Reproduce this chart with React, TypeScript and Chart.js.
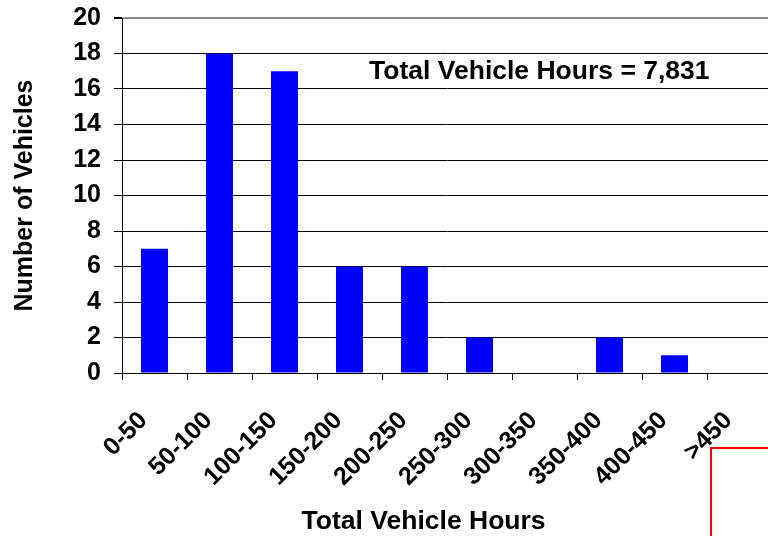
import React, { useEffect, useRef } from 'react';
import { Chart, registerables } from 'chart.js';

Chart.register(...registerables);

const categories = ['0-50', '50-100', '100-150', '150-200', '200-250', '250-300', '300-350', '350-400', '400-450', '>450'];
const vehicleCounts = [7, 18, 17, 6, 6, 2, 0, 2, 1, 0];
const yMin = 0;
const yMax = 20;
const yStep = 2;
const annotationText = 'Total Vehicle Hours = 7,831';
const xTitleText = 'Total Vehicle Hours';
const yTitleText = 'Number of Vehicles';

const FONT = '"Liberation Sans", Arial, sans-serif';

const textPlugin = {
  id: 'extraTexts',
  afterDraw(chart: any) {
    const { ctx, scales } = chart;
    const x = scales.x;
    const y = scales.y;
    ctx.save();
    ctx.fillStyle = '#000';
    ctx.textAlign = 'center';
    ctx.textBaseline = 'middle';
    ctx.font = `bold 26.5px ${FONT}`;
    ctx.fillText(annotationText, x.getPixelForValue(5.92), y.getPixelForValue(17));
    ctx.fillText(xTitleText, x.getPixelForValue(4.14), chart.height - 14);
    ctx.restore();
  },
};

export default function App() {
  const ref = useRef<HTMLCanvasElement | null>(null);
  useEffect(() => {
    if (!ref.current) return;
    Chart.defaults.font.family = FONT;
    Chart.defaults.color = '#000';
    const chart = new Chart(ref.current, {
      type: 'bar',
      data: {
        labels: categories,
        datasets: [
          {
            data: vehicleCounts,
            backgroundColor: '#0000FF',
            borderWidth: 0,
            categoryPercentage: 1,
            barPercentage: 0.415,
          },
        ],
      },
      plugins: [textPlugin],
      options: {
        responsive: false,
        animation: false,
        layout: { padding: { top: 18, right: 8, left: 0, bottom: 0 } },
        plugins: {
          legend: { display: false },
          tooltip: { enabled: false },
        },
        scales: {
          x: {
            offset: true,
            afterFit: (s: any) => {
              s.height = 163;
              s.paddingLeft = 0;
              s.paddingRight = 0;
            },
            grid: {
              offset: true,
              drawOnChartArea: false,
              drawTicks: true,
              tickLength: 7,
              color: '#000',
              tickColor: '#000',
            },
            border: { display: true, color: '#000', width: 1 },
            ticks: {
              autoSkip: false,
              minRotation: 45,
              maxRotation: 45,
              padding: 26,
              labelOffset: -11,
              color: '#000',
              font: { size: 25, weight: 'bold' },
            },
          },
          y: {
            min: yMin,
            max: yMax,
            afterFit: (s: any) => {
              s.width = 122;
              s.paddingTop = 0;
              s.paddingBottom = 0;
            },
            grid: {
              color: (c: any) => (c.tick && c.tick.value === yMax ? '#8a8a8a' : '#000'),
              lineWidth: (c: any) => (c.tick && c.tick.value === yMax ? 2 : 1),
              tickColor: '#000',
              tickLength: 8,
              drawTicks: true,
            },
            border: { display: true, color: '#000', width: 1 },
            ticks: {
              stepSize: yStep,
              padding: 13,
              color: '#000',
              font: { size: 25, weight: 'bold' },
            },
            title: {
              display: true,
              text: yTitleText,
              color: '#000',
              font: { size: 25, weight: 'bold' },
              padding: { top: 10, bottom: 0 },
            },
          },
        },
      },
    });
    return () => chart.destroy();
  }, []);

  return (
    <div
      style={{
        position: 'fixed',
        left: 0,
        top: 0,
        width: 768,
        height: 536,
        overflow: 'hidden',
        background: '#fff',
      }}
    >
      <canvas ref={ref} width={780} height={536} style={{ display: 'block', width: 780, height: 536 }} />
      <div
        style={{
          position: 'absolute',
          left: 710,
          top: 447,
          width: 120,
          height: 120,
          borderLeft: '2px solid #ff0000',
          borderTop: '2px solid #ff0000',
        }}
      />
    </div>
  );
}
